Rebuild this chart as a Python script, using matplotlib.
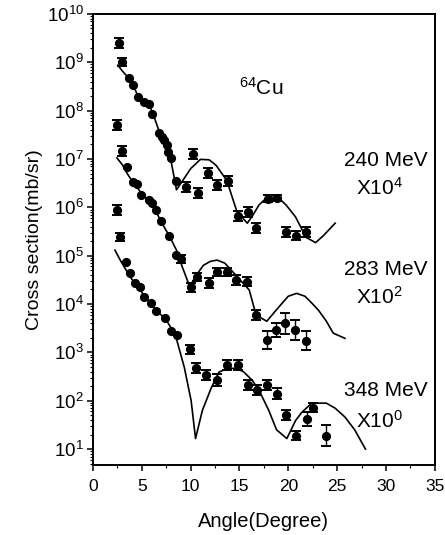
import numpy as np
import matplotlib
matplotlib.use('Agg')
import matplotlib.pyplot as plt
from matplotlib.ticker import LogLocator, MultipleLocator, NullFormatter

plt.rcParams['font.family'] = ['Liberation Sans', 'DejaVu Sans']
plt.rcParams['mathtext.fontset'] = 'custom'
plt.rcParams['mathtext.rm'] = 'Liberation Sans'
plt.rcParams['mathtext.it'] = 'Liberation Sans:italic'
plt.rcParams['mathtext.bf'] = 'Liberation Sans:bold'

# measured points (angle, cross section, error in dex) - already scaled
x_240 = [2.64, 2.95, 3.66, 4.07, 4.6, 5.2, 5.7, 6.0, 6.8, 7.1, 7.3, 7.6, 7.7, 8.0, 8.5,
         9.55, 10.2, 10.8, 11.8, 12.7, 13.8, 14.9, 15.9, 16.7, 17.9, 18.8, 19.8, 20.8, 21.8]
y_240 = [2.5e9, 1.0e9, 4.7e8, 3.4e8, 1.9e8, 1.5e8, 1.4e8, 8.5e7, 3.5e7, 2.8e7, 2.45e7, 1.95e7, 1.4e7, 1.05e7, 3.5e6,
         2.6e6, 1.26e7, 1.95e6, 5.1e6, 2.9e6, 3.5e6, 6.6e5, 7.9e5, 3.7e5, 1.5e6, 1.55e6, 3.1e5, 2.6e5, 3.1e5]
e_240 = [0.10, 0.08, 0, 0, 0, 0, 0, 0, 0, 0, 0, 0, 0, 0, 0,
         0.10, 0.10, 0.10, 0.10, 0.10, 0.10, 0.10, 0.10, 0.10, 0.07, 0.07, 0.10, 0.10, 0.10]

x_283 = [2.45, 2.95, 3.45, 4.1, 4.5, 4.9, 5.7, 6.0, 6.5, 6.95, 7.8, 8.55, 9.05,
         10.05, 10.7, 11.9, 12.7, 13.7, 14.65, 15.8, 16.7, 17.8, 18.7, 19.7, 20.7, 21.8]
y_283 = [5.0e7, 1.45e7, 6.8e6, 3.3e6, 3.0e6, 1.8e6, 1.4e6, 1.23e6, 8.7e5, 5.1e5, 2.6e5, 1.02e5, 8.5e4,
         2.2e4, 3.6e4, 2.7e4, 4.6e4, 4.6e4, 3.1e4, 2.9e4, 6.0e3, 1.8e3, 2.9e3, 4.0e3, 2.9e3, 1.75e3]
e_283 = [0.10, 0.10, 0, 0, 0, 0, 0, 0, 0, 0, 0, 0, 0.08,
         0.10, 0.08, 0.10, 0.08, 0.08, 0.10, 0.10, 0.10, 0.19, 0.15, 0.22, 0.21, 0.19]

x_348 = [2.45, 2.75, 3.35, 3.75, 4.3, 4.8, 5.2, 5.9, 6.5, 7.4, 8.0, 8.65,
         9.95, 10.55, 11.6, 12.7, 13.7, 14.85, 15.9, 16.8, 17.8, 18.8, 19.8, 20.8, 21.9, 22.5, 23.9]
y_348 = [8.7e5, 2.4e5, 7.4e4, 4.4e4, 2.7e4, 2.2e4, 1.4e4, 1.05e4, 7.1e3, 5.1e3, 2.75e3, 2.25e3,
         1.15e3, 470, 340, 265, 540, 540, 210, 165, 210, 140, 50, 19, 42, 72, 19]
e_348 = [0.10, 0.08, 0, 0, 0, 0, 0, 0, 0, 0, 0, 0,
         0.10, 0.10, 0.10, 0.12, 0.10, 0.10, 0.10, 0.10, 0.10, 0.12, 0.10, 0.10, 0.15, 0.10, 0.22]

# calculated curves
cx_240 = [2.55, 3.0, 3.7, 4.1, 4.6, 5.2, 5.8, 6.2, 6.8, 7.3, 7.7, 8.0, 8.55, 9.2, 10.0, 11.0, 11.9,
          12.6, 13.7, 14.75, 15.8, 16.3, 17.0, 17.6, 18.3, 19.0, 19.8, 20.75, 21.8, 22.8, 23.6, 24.2, 24.8]
cy_240 = [8.7e8, 6.6e8, 4.6e8, 3.4e8, 2.0e8, 1.5e8, 1.26e8, 8.0e7, 3.6e7, 2.4e7, 1.4e7, 8.9e6, 2.3e6, 3.6e6,
          6.3e6, 9.8e6, 9.6e6, 7.4e6, 3.6e6, 8.0e5, 4.7e5, 6.5e5, 1.12e6, 1.45e6, 1.62e6, 1.58e6, 1.1e6,
          6.3e5, 2.4e5, 1.86e5, 2.6e5, 3.5e5, 4.7e5]

cx_283 = [2.45, 3.0, 3.5, 4.0, 4.5, 5.0, 5.7, 6.2, 6.95, 7.8, 8.55, 9.15, 9.9, 10.6, 11.3, 12.0, 12.7,
          13.5, 14.6, 16.0, 16.7, 17.8, 18.5, 19.3, 20.0, 20.85, 21.7, 22.4, 23.1, 23.9, 24.6, 25.8]
cy_283 = [1.05e7, 7.6e6, 5.0e6, 3.5e6, 2.6e6, 1.9e6, 1.4e6, 1.07e6, 5.1e5, 2.6e5, 1.3e5, 5.8e4, 2.3e4,
          4.0e4, 6.3e4, 7.6e4, 8.1e4, 7.0e4, 4.0e4, 1.95e4, 5.9e3, 4.4e3, 6.5e3, 1.0e4, 1.45e4, 1.66e4,
          1.45e4, 1.05e4, 7.4e3, 4.4e3, 2.5e3, 1.95e3]

cx_348 = [2.25, 2.8, 3.4, 4.0, 4.6, 5.2, 5.9, 6.5, 7.4, 8.0, 8.5, 9.35, 10.05, 10.5, 11.2, 12.1, 12.9,
          13.7, 14.6, 15.4, 16.3, 17.0, 18.0, 18.8, 19.85, 20.75, 21.4, 22.4, 23.9, 24.8, 25.8, 26.8, 27.9]
cy_348 = [1.3e5, 8.0e4, 5.0e4, 3.2e4, 2.4e4, 1.5e4, 1.05e4, 7.2e3, 5.0e3, 3.2e3, 2.05e3, 490, 100, 16.5,
          63, 182, 390, 460, 470, 400, 265, 165, 63, 25, 16.5, 39, 58, 89, 89, 70, 46, 25, 10]

fig = plt.figure(figsize=(4.45, 5.35), dpi=100)
ax = fig.add_axes([0.209, 0.131, 0.768, 0.843])

for xs, ys, es, cxs, cys in [(x_240, y_240, e_240, cx_240, cy_240),
                             (x_283, y_283, e_283, cx_283, cy_283),
                             (x_348, y_348, e_348, cx_348, cy_348)]:
    xs = np.array(xs)
    ys = np.array(ys)
    es = np.array(es)
    ax.plot(cxs, cys, color='black', lw=1.2)
    ax.plot(xs, ys, 'o', color='black', ms=5.6)
    m = es > 0
    lo = ys[m] - ys[m] / 10 ** es[m]
    hi = ys[m] * 10 ** es[m] - ys[m]
    ax.errorbar(xs[m], ys[m], yerr=[lo, hi], fmt='none', ecolor='black',
                elinewidth=1.0, capsize=3.8, capthick=1.4)

ax.set_yscale('log')
ax.set_xlim(0, 35)
ax.set_ylim(4.7, 1e10)
ax.xaxis.set_major_locator(MultipleLocator(5))
ax.xaxis.set_minor_locator(MultipleLocator(2.5))
ax.yaxis.set_major_locator(LogLocator(base=10, numticks=20))
ax.yaxis.set_minor_locator(LogLocator(base=10, subs=np.arange(2, 10), numticks=20))
ax.yaxis.set_minor_formatter(NullFormatter())
ax.tick_params(axis='both', which='major', direction='out', length=4.5, width=1.1,
               top=False, right=False)
ax.tick_params(axis='x', which='major', pad=6, labelsize=12.5)
ax.tick_params(axis='y', which='major', pad=2, labelsize=13.5)
ax.tick_params(axis='both', which='minor', direction='out', length=2.2, width=0.8,
               top=False, right=False)
for s in ax.spines.values():
    s.set_linewidth(1.4)

ax.set_xlabel('Angle(Degree)', fontsize=14.5)
ax.set_ylabel('Cross section(mb/sr)', fontsize=14)
ax.xaxis.label.set_va('center')
ax.yaxis.label.set_va('center')
ax.xaxis.set_label_coords(0.5, -0.125)
ax.yaxis.set_label_coords(-0.172, 0.5)

ax.text(17.2, 3.0e8, '$^{64}$Cu', fontsize=15, ha='center', va='center')
ax.text(30.0, 9.5e6, '240 MeV', fontsize=15, ha='center', va='center')
ax.text(29.3, 2.5e6, 'X10$^4$', fontsize=15, ha='center', va='center')
ax.text(30.0, 5.2e4, '283 MeV', fontsize=15, ha='center', va='center')
ax.text(29.3, 1.38e4, 'X10$^2$', fontsize=15, ha='center', va='center')
ax.text(30.0, 165, '348 MeV', fontsize=15, ha='center', va='center')
ax.text(29.3, 39, 'X10$^0$', fontsize=15, ha='center', va='center')

plt.savefig('out.png', dpi=100)
